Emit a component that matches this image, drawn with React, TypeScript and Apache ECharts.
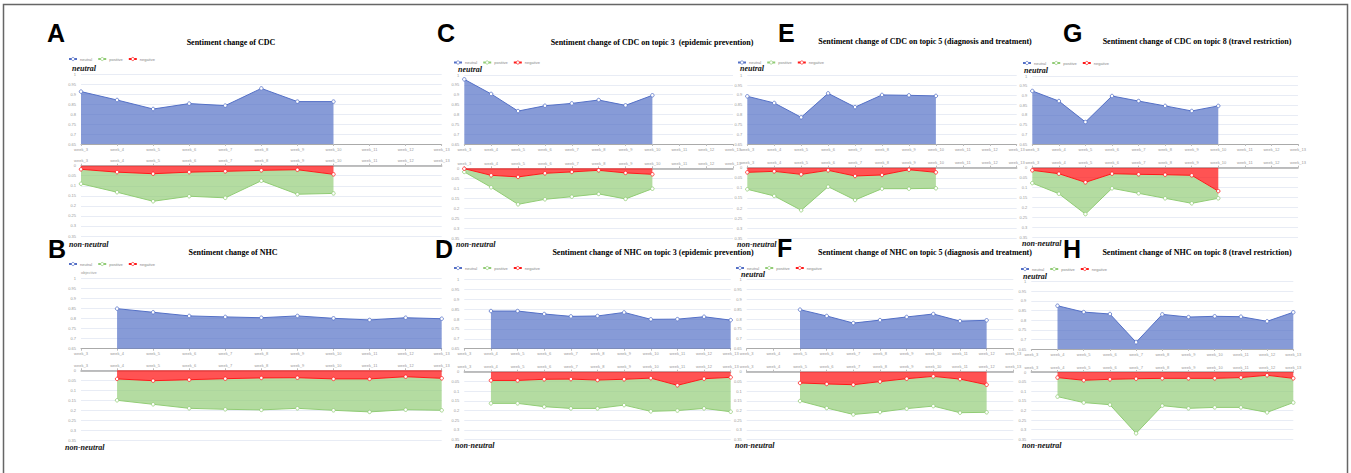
import React, { useEffect, useRef } from "react";
import * as echarts from "echarts";

const weeks = ["week_3", "week_4", "week_5", "week_6", "week_7", "week_8", "week_9", "week_10", "week_11", "week_12", "week_13"];
const neutralTicks = { min: 0.65, max: 1, step: 0.05 };
const nonNeutralTicks = { min: 0, max: 0.35, step: 0.05 };
const seriesNames = ["neutral", "positive", "negative"];

// A: CDC
const cdcNeutral = [0.912, 0.87, 0.825, 0.852, 0.842, 0.928, 0.862, 0.862, null, null, null];
const cdcPositive = [0.072, 0.1, 0.137, 0.12, 0.132, 0.052, 0.122, 0.095, null, null, null];
const cdcNegative = [0.018, 0.032, 0.04, 0.032, 0.028, 0.023, 0.02, 0.043, null, null, null];
// B: NHC
const nhcNeutral = [null, 0.849, 0.831, 0.813, 0.808, 0.804, 0.813, 0.801, 0.793, 0.804, 0.799];
const nhcPositive = [null, 0.107, 0.118, 0.143, 0.153, 0.16, 0.153, 0.157, 0.165, 0.165, 0.16];
const nhcNegative = [null, 0.043, 0.052, 0.047, 0.042, 0.038, 0.037, 0.043, 0.043, 0.032, 0.04];
// C: CDC topic 3
const cdcT3Neutral = [0.978, 0.904, 0.817, 0.844, 0.856, 0.873, 0.846, 0.897, null, null, null];
const cdcT3Positive = [0.016, 0.06, 0.137, 0.13, 0.124, 0.118, 0.13, 0.072, null, null, null];
const cdcT3Negative = [0.002, 0.035, 0.043, 0.025, 0.018, 0.01, 0.023, 0.03, null, null, null];
// D: NHC topic 3
const nhcT3Neutral = [null, 0.841, 0.841, 0.826, 0.814, 0.816, 0.834, 0.799, 0.8, 0.812, 0.795];
const nhcT3Positive = [null, 0.118, 0.118, 0.141, 0.151, 0.146, 0.133, 0.171, 0.13, 0.153, 0.177];
const nhcT3Negative = [null, 0.045, 0.045, 0.039, 0.038, 0.043, 0.039, 0.033, 0.07, 0.036, 0.029];
// E: CDC topic 5
const cdcT5Neutral = [0.893, 0.859, 0.786, 0.908, 0.838, 0.9, 0.898, 0.895, null, null, null];
const cdcT5Positive = [0.084, 0.122, 0.178, 0.081, 0.119, 0.068, 0.094, 0.079, null, null, null];
const cdcT5Negative = [0.023, 0.018, 0.033, 0.013, 0.041, 0.036, 0.01, 0.023, null, null, null];
// F: NHC topic 5
const nhcT5Neutral = [null, null, 0.848, 0.816, 0.78, 0.795, 0.811, 0.826, 0.79, 0.794, null];
const nhcT5Positive = [null, null, 0.093, 0.124, 0.153, 0.157, 0.154, 0.153, 0.173, 0.142, null];
const nhcT5Negative = [null, null, 0.058, 0.063, 0.067, 0.051, 0.036, 0.024, 0.038, 0.067, null];
// G: CDC topic 8
const cdcT8Neutral = [0.923, 0.871, 0.763, 0.897, 0.871, 0.846, 0.82, 0.846, null, null, null];
const cdcT8Positive = [0.064, 0.1, 0.159, 0.073, 0.095, 0.118, 0.14, 0.036, null, null, null];
const cdcT8Negative = [0.013, 0.03, 0.073, 0.03, 0.033, 0.035, 0.038, 0.117, null, null, null];
// H: NHC topic 8
const nhcT8Neutral = [null, 0.875, 0.842, 0.832, 0.685, 0.83, 0.816, 0.82, 0.818, 0.794, 0.841];
const nhcT8Positive = [null, 0.099, 0.116, 0.132, 0.284, 0.142, 0.156, 0.151, 0.155, 0.193, 0.126];
const nhcT8Negative = [null, 0.029, 0.043, 0.038, 0.035, 0.033, 0.033, 0.033, 0.029, 0.017, 0.033];

const titles = {
  A: "Sentiment change of CDC",
  B: "Sentiment change of NHC",
  C: "Sentiment change of CDC on topic 3  (epidemic prevention)",
  D: "Sentiment change of NHC on topic 3 (epidemic prevention)",
  E: "Sentiment change of CDC on topic 5 (diagnosis and treatment)",
  F: "Sentiment change of NHC on topic 5 (diagnosis and treatment)",
  G: "Sentiment change of CDC on topic 8 (travel restriction)",
  H: "Sentiment change of NHC on topic 8 (travel restriction)",
};

type Panel = {
  letter: string;
  neutral: (number | null)[];
  positive: (number | null)[];
  negative: (number | null)[];
  left: number; width: number;
  topT: number; hT: number; topB: number; hB: number;
  letterPos: [number, number];
  titlePos: [number, number];
  legendPos: [number, number];
  neutralPos?: [number, number];
  yName?: string;
  nonNeutralPos: [number, number];
};

const panels: Panel[] = [
  { letter: "A", neutral: cdcNeutral, positive: cdcPositive, negative: cdcNegative, left: 81, width: 360.7, topT: 74, hT: 70, topB: 165.7, hB: 70.3, letterPos: [47, 32.5], titlePos: [231, 42], legendPos: [68, 59], neutralPos: [72, 68], nonNeutralPos: [69, 244] },
  { letter: "B", neutral: nhcNeutral, positive: nhcPositive, negative: nhcNegative, left: 81, width: 360.7, topT: 278.3, hT: 70.4, topB: 370.3, hB: 70, letterPos: [48, 248.5], titlePos: [233, 252], legendPos: [68, 264], yName: "objective", nonNeutralPos: [65, 447] },
  { letter: "C", neutral: cdcT3Neutral, positive: cdcT3Positive, negative: cdcT3Negative, left: 464.3, width: 268.7, topT: 75, hT: 69, topB: 168.3, hB: 70, letterPos: [437, 32.5], titlePos: [652, 42], legendPos: [453, 62.5], neutralPos: [458, 69], nonNeutralPos: [456, 244] },
  { letter: "D", neutral: nhcT3Neutral, positive: nhcT3Positive, negative: nhcT3Negative, left: 464.3, width: 266.4, topT: 279.7, hT: 69, topB: 371.7, hB: 68, letterPos: [435, 248.5], titlePos: [653, 252], legendPos: [453, 268], nonNeutralPos: [455, 445] },
  { letter: "E", neutral: cdcT5Neutral, positive: cdcT5Positive, negative: cdcT5Negative, left: 747.3, width: 269.4, topT: 75.3, hT: 68.7, topB: 167.7, hB: 70.6, letterPos: [778, 32.5], titlePos: [925, 41], legendPos: [737, 62.5], neutralPos: [740, 68], nonNeutralPos: [737, 244] },
  { letter: "F", neutral: nhcT5Neutral, positive: nhcT5Positive, negative: nhcT5Negative, left: 746.7, width: 266.6, topT: 279.7, hT: 69, topB: 371.7, hB: 68, letterPos: [777, 248], titlePos: [925, 252], legendPos: [735, 268], neutralPos: [741, 274], nonNeutralPos: [735, 445] },
  { letter: "G", neutral: cdcT8Neutral, positive: cdcT8Positive, negative: cdcT8Negative, left: 1032.3, width: 265.7, topT: 76, hT: 68, topB: 167.7, hB: 70, letterPos: [1063, 32.5], titlePos: [1197, 41], legendPos: [1022, 63], neutralPos: [1024, 70], nonNeutralPos: [1022, 243] },
  { letter: "H", neutral: nhcT8Neutral, positive: nhcT8Positive, negative: nhcT8Negative, left: 1031.3, width: 262, topT: 281.7, hT: 67.3, topB: 372, hB: 67.3, letterPos: [1063, 248.5], titlePos: [1197, 252], legendPos: [1020, 269], neutralPos: [1023, 276], nonNeutralPos: [1022, 445] },
];

const BLUE = "#5470c6";
const GREEN = "#91cc75";
const RED = "#ff1a1a";

function buildOption() {
  const grid: any[] = [];
  const xAxis: any[] = [];
  const yAxis: any[] = [];
  const series: any[] = [];
  const legend: any[] = [];
  const graphic: any[] = [];

  graphic.push({
    type: "rect",
    shape: { x: 3.5, y: 4.5, width: 1344, height: 475 },
    style: { fill: "none", stroke: "#666", lineWidth: 1.5 },
    silent: true,
  });

  const axisLabelStyle = { fontSize: 4, color: "#999", fontFamily: "sans-serif" };

  panels.forEach((p, i) => {
    const gT = i * 2;
    const gB = i * 2 + 1;
    grid.push({ left: p.left, top: p.topT, width: p.width, height: p.hT, containLabel: false, outerBoundsMode: "none" });
    grid.push({ left: p.left, top: p.topB, width: p.width, height: p.hB, containLabel: false, outerBoundsMode: "none" });

    [gT, gB].forEach((g, k) => {
      xAxis.push({
        type: "category",
        gridIndex: g,
        data: weeks,
        boundaryGap: false,
        position: k === 0 ? "bottom" : "top",
        axisLine: { show: true, lineStyle: { color: "#aaa", width: k === 0 ? 1 : 1.5 } },
        axisTick: { show: true, length: 2, lineStyle: { color: "#bbb" } },
        axisLabel: { ...axisLabelStyle, interval: 0, margin: 3 },
        splitLine: { show: false },
      });
      const t = k === 0 ? neutralTicks : nonNeutralTicks;
      yAxis.push({
        type: "value",
        gridIndex: g,
        min: t.min,
        max: t.max,
        interval: t.step,
        inverse: k === 1,
        name: k === 0 && p.yName ? p.yName : undefined,
        nameLocation: "end",
        nameGap: 4,
        nameTextStyle: { fontSize: 4, color: "#999", align: "left" },
        axisLine: { show: false },
        axisTick: { show: false },
        axisLabel: { ...axisLabelStyle, margin: 5 },
        splitLine: { show: true, lineStyle: { color: "#E8ECF5", width: 1 } },
      });
    });

    const sym = { symbol: "circle", symbolSize: 3.5 };
    series.push({
      name: "neutral",
      type: "line",
      xAxisIndex: gT,
      yAxisIndex: gT,
      data: p.neutral,
      ...sym,
      lineStyle: { color: BLUE, width: 1 },
      itemStyle: { color: "#fff", borderColor: BLUE, borderWidth: 0.8 },
      areaStyle: { color: BLUE, opacity: 0.7 },
    });
    series.push({
      name: "negative",
      type: "line",
      stack: "nn" + p.letter,
      xAxisIndex: gB,
      yAxisIndex: gB,
      data: p.negative,
      ...sym,
      lineStyle: { color: RED, width: 1 },
      itemStyle: { color: "#fff", borderColor: RED, borderWidth: 0.8 },
      areaStyle: { color: RED, opacity: 0.75 },
      z: 3,
    });
    series.push({
      name: "positive",
      type: "line",
      stack: "nn" + p.letter,
      xAxisIndex: gB,
      yAxisIndex: gB,
      data: p.positive,
      ...sym,
      lineStyle: { color: GREEN, width: 1 },
      itemStyle: { color: "#fff", borderColor: GREEN, borderWidth: 0.8 },
      areaStyle: { color: GREEN, opacity: 0.68 },
      z: 2,
    });

    legend.push({
      left: p.legendPos[0],
      top: p.legendPos[1] - 2,
      data: seriesNames,
      itemWidth: 8,
      itemHeight: 4,
      itemGap: 5,
      padding: 0,
      selectedMode: false,
      itemStyle: { borderWidth: 0.7 },
      textStyle: { fontSize: 4, color: "#888", padding: [0, 0, 0, -2] },
    });

    graphic.push({
      type: "text",
      x: p.letterPos[0],
      y: p.letterPos[1],
      style: { text: p.letter, font: "bold 25px 'Liberation Sans', Arial, sans-serif", fill: "#000", textVerticalAlign: "middle", textAlign: "left" },
      silent: true,
    });
    graphic.push({
      type: "text",
      x: p.titlePos[0],
      y: p.titlePos[1],
      style: { text: (titles as any)[p.letter], font: "bold 8px 'Liberation Serif', 'Times New Roman', serif", fill: "#000", textVerticalAlign: "middle", textAlign: "center" },
      silent: true,
    });
    if (p.neutralPos) {
      graphic.push({
        type: "text",
        x: p.neutralPos[0],
        y: p.neutralPos[1],
        style: { text: "neutral", font: "italic bold 8px 'Liberation Serif', 'Times New Roman', serif", fill: "#111", textVerticalAlign: "middle", textAlign: "left" },
        silent: true,
      });
    }
    graphic.push({
      type: "text",
      x: p.nonNeutralPos[0],
      y: p.nonNeutralPos[1],
      style: { text: "non-neutral", font: "italic bold 8px 'Liberation Serif', 'Times New Roman', serif", fill: "#111", textVerticalAlign: "middle", textAlign: "left" },
      silent: true,
    });
  });

  return {
    animation: false,
    backgroundColor: "#fff",
    grid,
    xAxis,
    yAxis,
    series,
    legend,
    graphic,
  };
}

export default function App() {
  const ref = useRef<HTMLDivElement>(null);
  useEffect(() => {
    if (!ref.current) return;
    const chart = echarts.init(ref.current, undefined, { renderer: "svg" });
    chart.setOption(buildOption() as any);
    return () => chart.dispose();
  }, []);
  return (
    <div
      ref={ref}
      style={{ position: "absolute", left: 0, top: 0, width: 1351, height: 473, background: "#fff" }}
    />
  );
}
